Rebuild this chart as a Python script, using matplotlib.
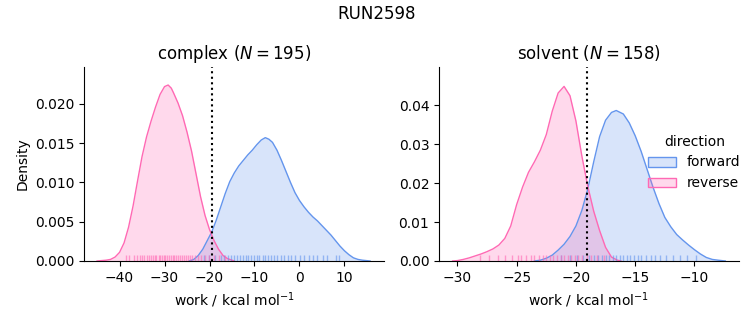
import matplotlib
matplotlib.use("Agg")
import matplotlib.pyplot as plt
from matplotlib.patches import Patch

FWD = "cornflowerblue"
REV = "hotpink"

# complex leg: KDE curves (work in kcal/mol, density)
cx_rev_x = [-45.0, -44.0, -43.0, -42.0, -41.0, -40.0, -39.0, -38.0, -37.0, -36.0, -35.0,
            -34.0, -33.0, -32.0, -31.0, -30.0, -29.2, -28.5, -28.0, -27.0, -26.0, -25.0,
            -24.0, -23.0, -22.0, -21.0, -20.0, -19.0, -18.0, -17.0, -16.0, -15.0, -14.5]
cx_rev_y = [0.0, 0.00005, 0.0001, 0.0002, 0.0005, 0.0011, 0.0023, 0.0043, 0.0070, 0.0102, 0.0133,
            0.0158, 0.0178, 0.0196, 0.0212, 0.0222, 0.0224, 0.0220, 0.0214, 0.0201, 0.0185, 0.0164,
            0.0140, 0.0111, 0.0082, 0.0058, 0.0040, 0.0026, 0.0015, 0.0007, 0.0003, 0.0001, 0.0]
cx_fwd_x = [-24.5, -23.5, -22.5, -21.5, -20.5, -19.5, -18.5, -17.5, -16.5, -15.5, -14.5,
            -13.5, -12.5, -11.5, -10.5, -9.5, -8.5, -7.6, -6.8, -6.0, -5.0, -4.0, -3.0,
            -2.0, -1.0, 0.0, 1.0, 2.0, 3.0, 4.0, 5.0, 6.0, 7.0, 8.0, 9.0, 10.0, 11.0,
            12.0, 13.0, 14.0, 15.7]
cx_fwd_y = [0.0, 0.0002, 0.0007, 0.0015, 0.0026, 0.0037, 0.0052, 0.0069, 0.0086, 0.0101, 0.0112,
            0.0121, 0.0128, 0.0135, 0.0141, 0.0148, 0.0154, 0.0157, 0.0155, 0.0151, 0.0141,
            0.0128, 0.0114, 0.0100, 0.0087, 0.0077, 0.0069, 0.0062, 0.0056, 0.0051, 0.0045,
            0.0039, 0.0033, 0.0026, 0.0019, 0.0013, 0.0008, 0.0004, 0.0002, 0.0001, 0.0]

# solvent leg
sv_rev_x = [-30.4, -30.0, -29.5, -29.0, -28.5, -28.0, -27.5, -27.0, -26.5, -26.0, -25.5,
            -25.0, -24.5, -24.0, -23.5, -23.0, -22.5, -22.0, -21.5, -21.0, -20.5, -20.0,
            -19.5, -19.0, -18.5, -18.0, -17.5, -17.0, -16.5, -16.2]
sv_rev_y = [0.0, 0.0001, 0.0004, 0.0008, 0.0013, 0.0018, 0.0024, 0.0031, 0.0041, 0.0058, 0.0090,
            0.0145, 0.0190, 0.0228, 0.0255, 0.0285, 0.0325, 0.0385, 0.0432, 0.0449, 0.0425, 0.0360,
            0.0270, 0.0192, 0.0128, 0.0078, 0.0035, 0.0010, 0.0002, 0.0]
sv_fwd_x = [-23.5, -23.0, -22.5, -22.0, -21.5, -21.0, -20.5, -20.0, -19.5, -19.0, -18.5,
            -18.0, -17.5, -17.0, -16.6, -16.0, -15.5, -15.0, -14.5, -14.0, -13.5, -13.0,
            -12.5, -12.0, -11.5, -11.0, -10.5, -10.0, -9.5, -9.0, -8.5, -8.0, -7.4]
sv_fwd_y = [0.0, 0.0002, 0.0007, 0.0015, 0.0028, 0.0043, 0.0063, 0.0090, 0.0130, 0.0185, 0.0255,
            0.0320, 0.0362, 0.0382, 0.0387, 0.0378, 0.0355, 0.0322, 0.0282, 0.0236, 0.0190, 0.0148,
            0.0112, 0.0088, 0.0068, 0.0054, 0.0041, 0.0029, 0.0018, 0.0009, 0.0004, 0.0002, 0.0]

# individual work values shown as rug ticks (estimated)
cx_rev_rug = [-38.6, -37.9, -36.8, -36.2, -35.5, -35.0, -34.6, -34.0, -33.5, -33.1, -32.6,
              -32.2, -31.8, -31.3, -30.9, -30.5, -30.1, -29.8, -29.4, -29.0, -28.6, -28.2,
              -27.8, -27.4, -27.0, -26.6, -26.1, -25.7, -25.2, -24.8, -24.3, -23.8, -23.2,
              -22.6, -21.9, -21.0, -20.2, -19.0, -17.8, -16.5]
cx_fwd_rug = [-21.2, -20.1, -18.7, -17.5, -16.8, -16.0, -15.3, -14.6, -13.9, -13.3, -12.6,
              -12.0, -11.4, -10.8, -10.1, -9.5, -8.9, -8.2, -7.6, -7.0, -6.3, -5.6, -4.9,
              -4.1, -3.4, -2.6, -1.8, -0.9, 0.1, 1.0, 2.2, 3.1, 4.0, 5.2, 6.1, 8.2, 8.7]
sv_rev_rug = [-28.1, -27.3, -26.6, -26.0, -25.4, -24.9, -24.6, -24.2, -23.8, -23.5, -23.1,
              -22.8, -22.5, -22.2, -21.9, -21.6, -21.3, -21.0, -20.7, -20.4, -20.1, -19.8,
              -19.5, -19.1, -18.7, -18.2, -17.6]
sv_fwd_rug = [-21.3, -20.5, -19.9, -19.4, -18.9, -18.5, -18.1, -17.8, -17.5, -17.2, -16.9,
              -16.6, -16.3, -16.0, -15.7, -15.4, -15.1, -14.8, -14.5, -14.1, -13.7, -13.3,
              -12.9, -12.4, -11.8, -11.2, -10.6, -9.9]

# free energy estimates (dotted lines)
cx_dg = -19.4
sv_dg = -19.1

panels = [
    ("complex ($N=195$)", cx_fwd_x, cx_fwd_y, cx_rev_x, cx_rev_y, cx_fwd_rug, cx_rev_rug, cx_dg,
     (-47.9, 18.8), (0, 0.0247), [-40, -30, -20, -10, 0, 10], [0, 0.005, 0.010, 0.015, 0.020], "%.3f"),
    ("solvent ($N=158$)", sv_fwd_x, sv_fwd_y, sv_rev_x, sv_rev_y, sv_fwd_rug, sv_rev_rug, sv_dg,
     (-31.55, -6.27), (0, 0.0499), [-30, -25, -20, -15, -10], [0, 0.01, 0.02, 0.03, 0.04], "%.2f"),
]

fig = plt.figure(figsize=(7.53, 3.25), dpi=100)
ax1 = fig.add_axes([0.1116, 0.197, 0.3984, 0.597])
ax2 = fig.add_axes([0.583, 0.197, 0.398, 0.597])

for ax, p in zip([ax1, ax2], panels):
    title, fx, fy, rx, ry, frug, rrug, dg, xlim, ylim, xt, yt, fmt = p
    for x, y, c in [(fx, fy, FWD), (rx, ry, REV)]:
        ax.fill_between(x, y, color=c, alpha=0.25, lw=0)
        ax.plot(x, y, color=c, lw=1)
    # rug along the bottom
    for r, c in [(frug, FWD), (rrug, REV)]:
        ax.vlines(r, 0, 0.03, color=c, lw=1, alpha=0.6, transform=ax.get_xaxis_transform())
    ax.axvline(dg, color="k", ls=":", lw=1.5)
    ax.set_xlim(*xlim)
    ax.set_ylim(*ylim)
    ax.set_xticks(xt)
    ax.set_yticks(yt)
    ax.yaxis.set_major_formatter(plt.FormatStrFormatter(fmt))
    ax.set_title(title)
    ax.set_xlabel("work / kcal mol$^{-1}$")
    ax.spines["top"].set_visible(False)
    ax.spines["right"].set_visible(False)

ax1.set_ylabel("Density")
fig.suptitle("RUN2598", y=0.985)

# faded fill, opaque edge, like the kde patches
handles = [Patch(facecolor=matplotlib.colors.to_rgba(c, 0.25), edgecolor=c) for c in (FWD, REV)]
fig.legend(handles, ["forward", "reverse"], title="direction", frameon=False,
           loc="center", bbox_to_anchor=(0.922, 0.50))

fig.savefig("out.png", dpi=100)
